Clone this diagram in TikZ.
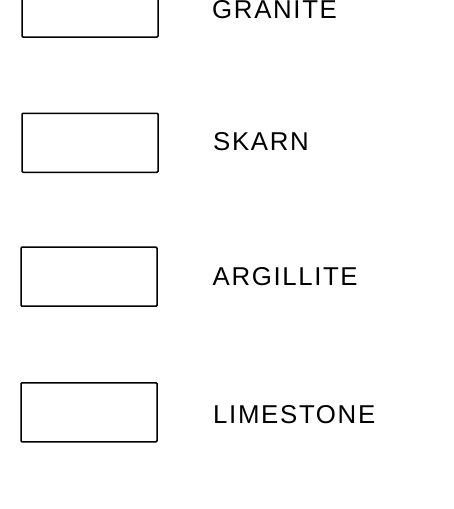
\documentclass[tikz,border=0pt]{standalone}
\usepackage{fontspec}
\setmainfont{Liberation Sans}
\newfontfamily\labfont[LetterSpace=6.5]{Liberation Sans}
\begin{document}
\begin{tikzpicture}[x=1pt,y=1pt,
  legbox/.style={draw=black, line width=1.5pt, rounded corners=1pt, minimum width=136pt, minimum height=59pt, inner sep=0pt, fill=white},
  legtext/.style={anchor=base west, inner sep=0pt, font=\labfont\fontsize{25.8}{30}\selectfont, text=black}]
\useasboundingbox (0,0) rectangle (453,-509);
\node[legbox] (b1) at (90,-7.5) {};
\node[legbox] (b2) at (90,-142.8) {};
\node[legbox] (b3) at (89,-276.7) {};
\node[legbox] (b4) at (89,-412.3) {};
\node[legtext] (t1) at (212,-18.3) {GRANITE};
\node[legtext] (t2) at (213,-150) {SKARN};
\node[legtext] (t3) at (212.5,-285.7) {ARGIL\kern1.5pt LI\kern1.5pt TE};
\node[legtext] (t4) at (213,-423) {LIMESTONE};
\end{tikzpicture}
\end{document}
